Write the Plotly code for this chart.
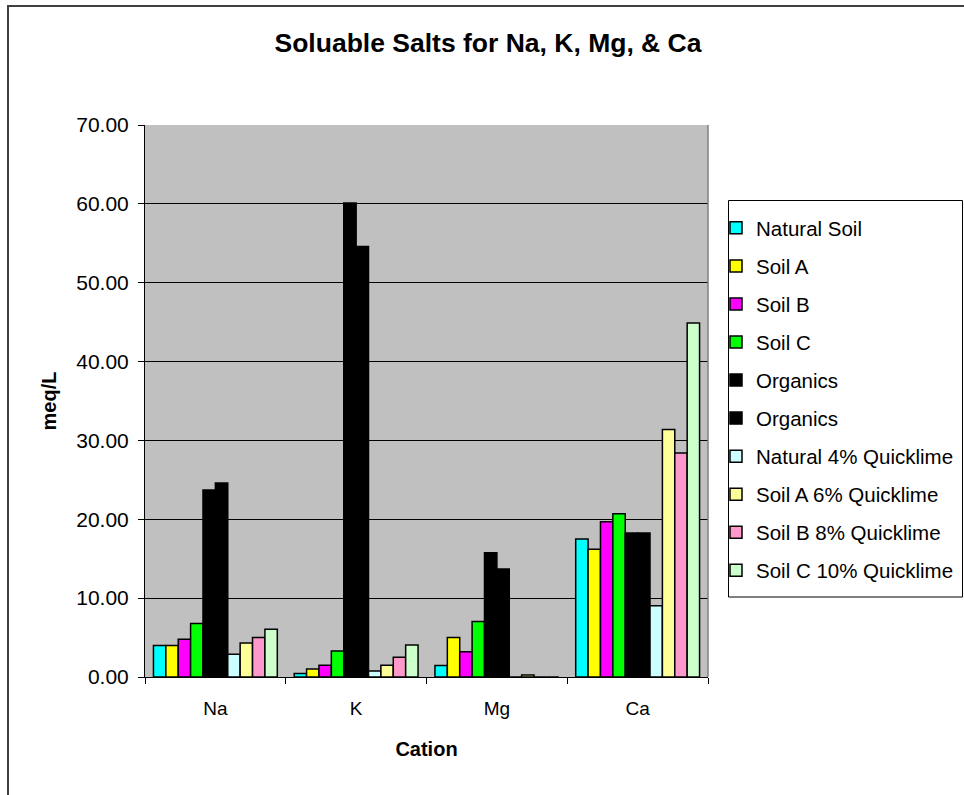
import plotly.graph_objects as go

categories = ["Na", "K", "Mg", "Ca"]
series_names = ["Natural Soil", "Soil A", "Soil B", "Soil C", "Organics", "Organics",
                "Natural 4% Quicklime", "Soil A 6% Quicklime", "Soil B 8% Quicklime",
                "Soil C 10% Quicklime"]
natural_soil = [4.0, 0.45, 1.45, 17.5]
soil_a = [4.0, 1.0, 5.0, 16.2]
soil_b = [4.8, 1.5, 3.2, 19.7]
soil_c = [6.8, 3.3, 7.05, 20.7]
organics_1 = [23.7, 60.1, 15.75, 18.25]
organics_2 = [24.6, 54.6, 13.7, 18.25]
natural_4q = [2.9, 0.75, 0.0, 9.05]
soil_a_6q = [4.3, 1.5, 0.25, 31.4]
soil_b_8q = [5.0, 2.5, 0.0, 28.4]
soil_c_10q = [6.05, 4.05, 0.0, 44.9]
y_tickvals = [0, 10, 20, 30, 40, 50, 60, 70]

all_values = [natural_soil, soil_a, soil_b, soil_c, organics_1, organics_2,
              natural_4q, soil_a_6q, soil_b_8q, soil_c_10q]
colors = ["#00FFFF", "#FFFF00", "#FF00FF", "#00FF00", "#000000", "#000000",
          "#CCFFFF", "#FFFF99", "#FF99CC", "#CCFFCC"]

FONT = "Liberation Sans, Arial, sans-serif"
W, H = 964, 795

# plot area in pixels: x 145..708, y 125..677
def px_x(px):
    return (px - 145) / 563

def px_y(py):
    return (677 - py) / 552

fig = go.Figure()
for i, (name, vals, col) in enumerate(zip(series_names, all_values, colors)):
    fig.add_trace(go.Bar(
        x=categories, y=vals, name=name, legendgroup=f"g{i}",
        marker=dict(color=col, line=dict(color="#000000", width=1.5)),
    ))

fig.update_layout(
    width=W, height=H,
    margin=dict(l=145, r=256, t=125, b=118, autoexpand=False),
    paper_bgcolor="#FFFFFF",
    plot_bgcolor="#C0C0C0",
    barmode="group",
    bargap=0.12,
    bargroupgap=0,
    font=dict(family=FONT, color="#000000", size=18),
    title=dict(text="<b>Soluable Salts for Na, K, Mg, & Ca</b>",
               x=488 / W, xref="container", xanchor="center",
               y=1 - 43 / H, yanchor="middle", yref="container",
               font=dict(size=26.5, family=FONT)),
    showlegend=True,
    legend=dict(
        x=716 / W, y=1 - 208 / H, xanchor="left", yanchor="top",
        xref="container", yref="container",
        borderwidth=0, bgcolor="rgba(0,0,0,0)",
        font=dict(size=20.5, family=FONT),
        traceorder="grouped", tracegroupgap=8.4,
        itemwidth=30,
    ),
    xaxis=dict(
        type="category",
        tickson="boundaries",
        ticks="outside", ticklen=6, tickcolor="#000000",
        showline=True, linecolor="#000000", linewidth=1,
        showgrid=False,
        tickfont=dict(size=19),
        ticklabelstandoff=14,
        title=dict(text="<b>Cation</b>", font=dict(size=20), standoff=24),
    ),
    yaxis=dict(
        range=[0, 70],
        tickvals=y_tickvals,
        tickformat=".2f",
        ticks="outside", ticklen=6, tickcolor="#000000",
        showline=True, linecolor="#000000", linewidth=1,
        showgrid=True, gridcolor="#000000", gridwidth=1,
        zeroline=False,
        tickfont=dict(size=21),
        ticklabelstandoff=5,
        title=dict(text="<b>meq/L</b>", font=dict(size=20), standoff=14),
    ),
)

# plot-area right border (gray)
fig.add_shape(type="line", xref="paper", yref="paper", x0=1, x1=1, y0=0, y1=1,
              line=dict(color="#808080", width=1.5), layer="above")
# legend box
fig.add_shape(type="rect", xref="paper", yref="paper",
              x0=px_x(728.5), x1=px_x(962.5), y0=px_y(597), y1=px_y(200.5),
              line=dict(color="#000000", width=1), fillcolor="#FFFFFF", layer="below")
# outer chart frame
fig.add_shape(type="rect", xref="paper", yref="paper",
              x0=px_x(8), x1=1.6, y0=-0.5, y1=px_y(6),
              line=dict(color="#404040", width=2), layer="below")

fig.write_html("out.html",
               config={"displayModeBar": False},
               post_script="document.body.style.margin='0';document.body.style.overflow='hidden';")
